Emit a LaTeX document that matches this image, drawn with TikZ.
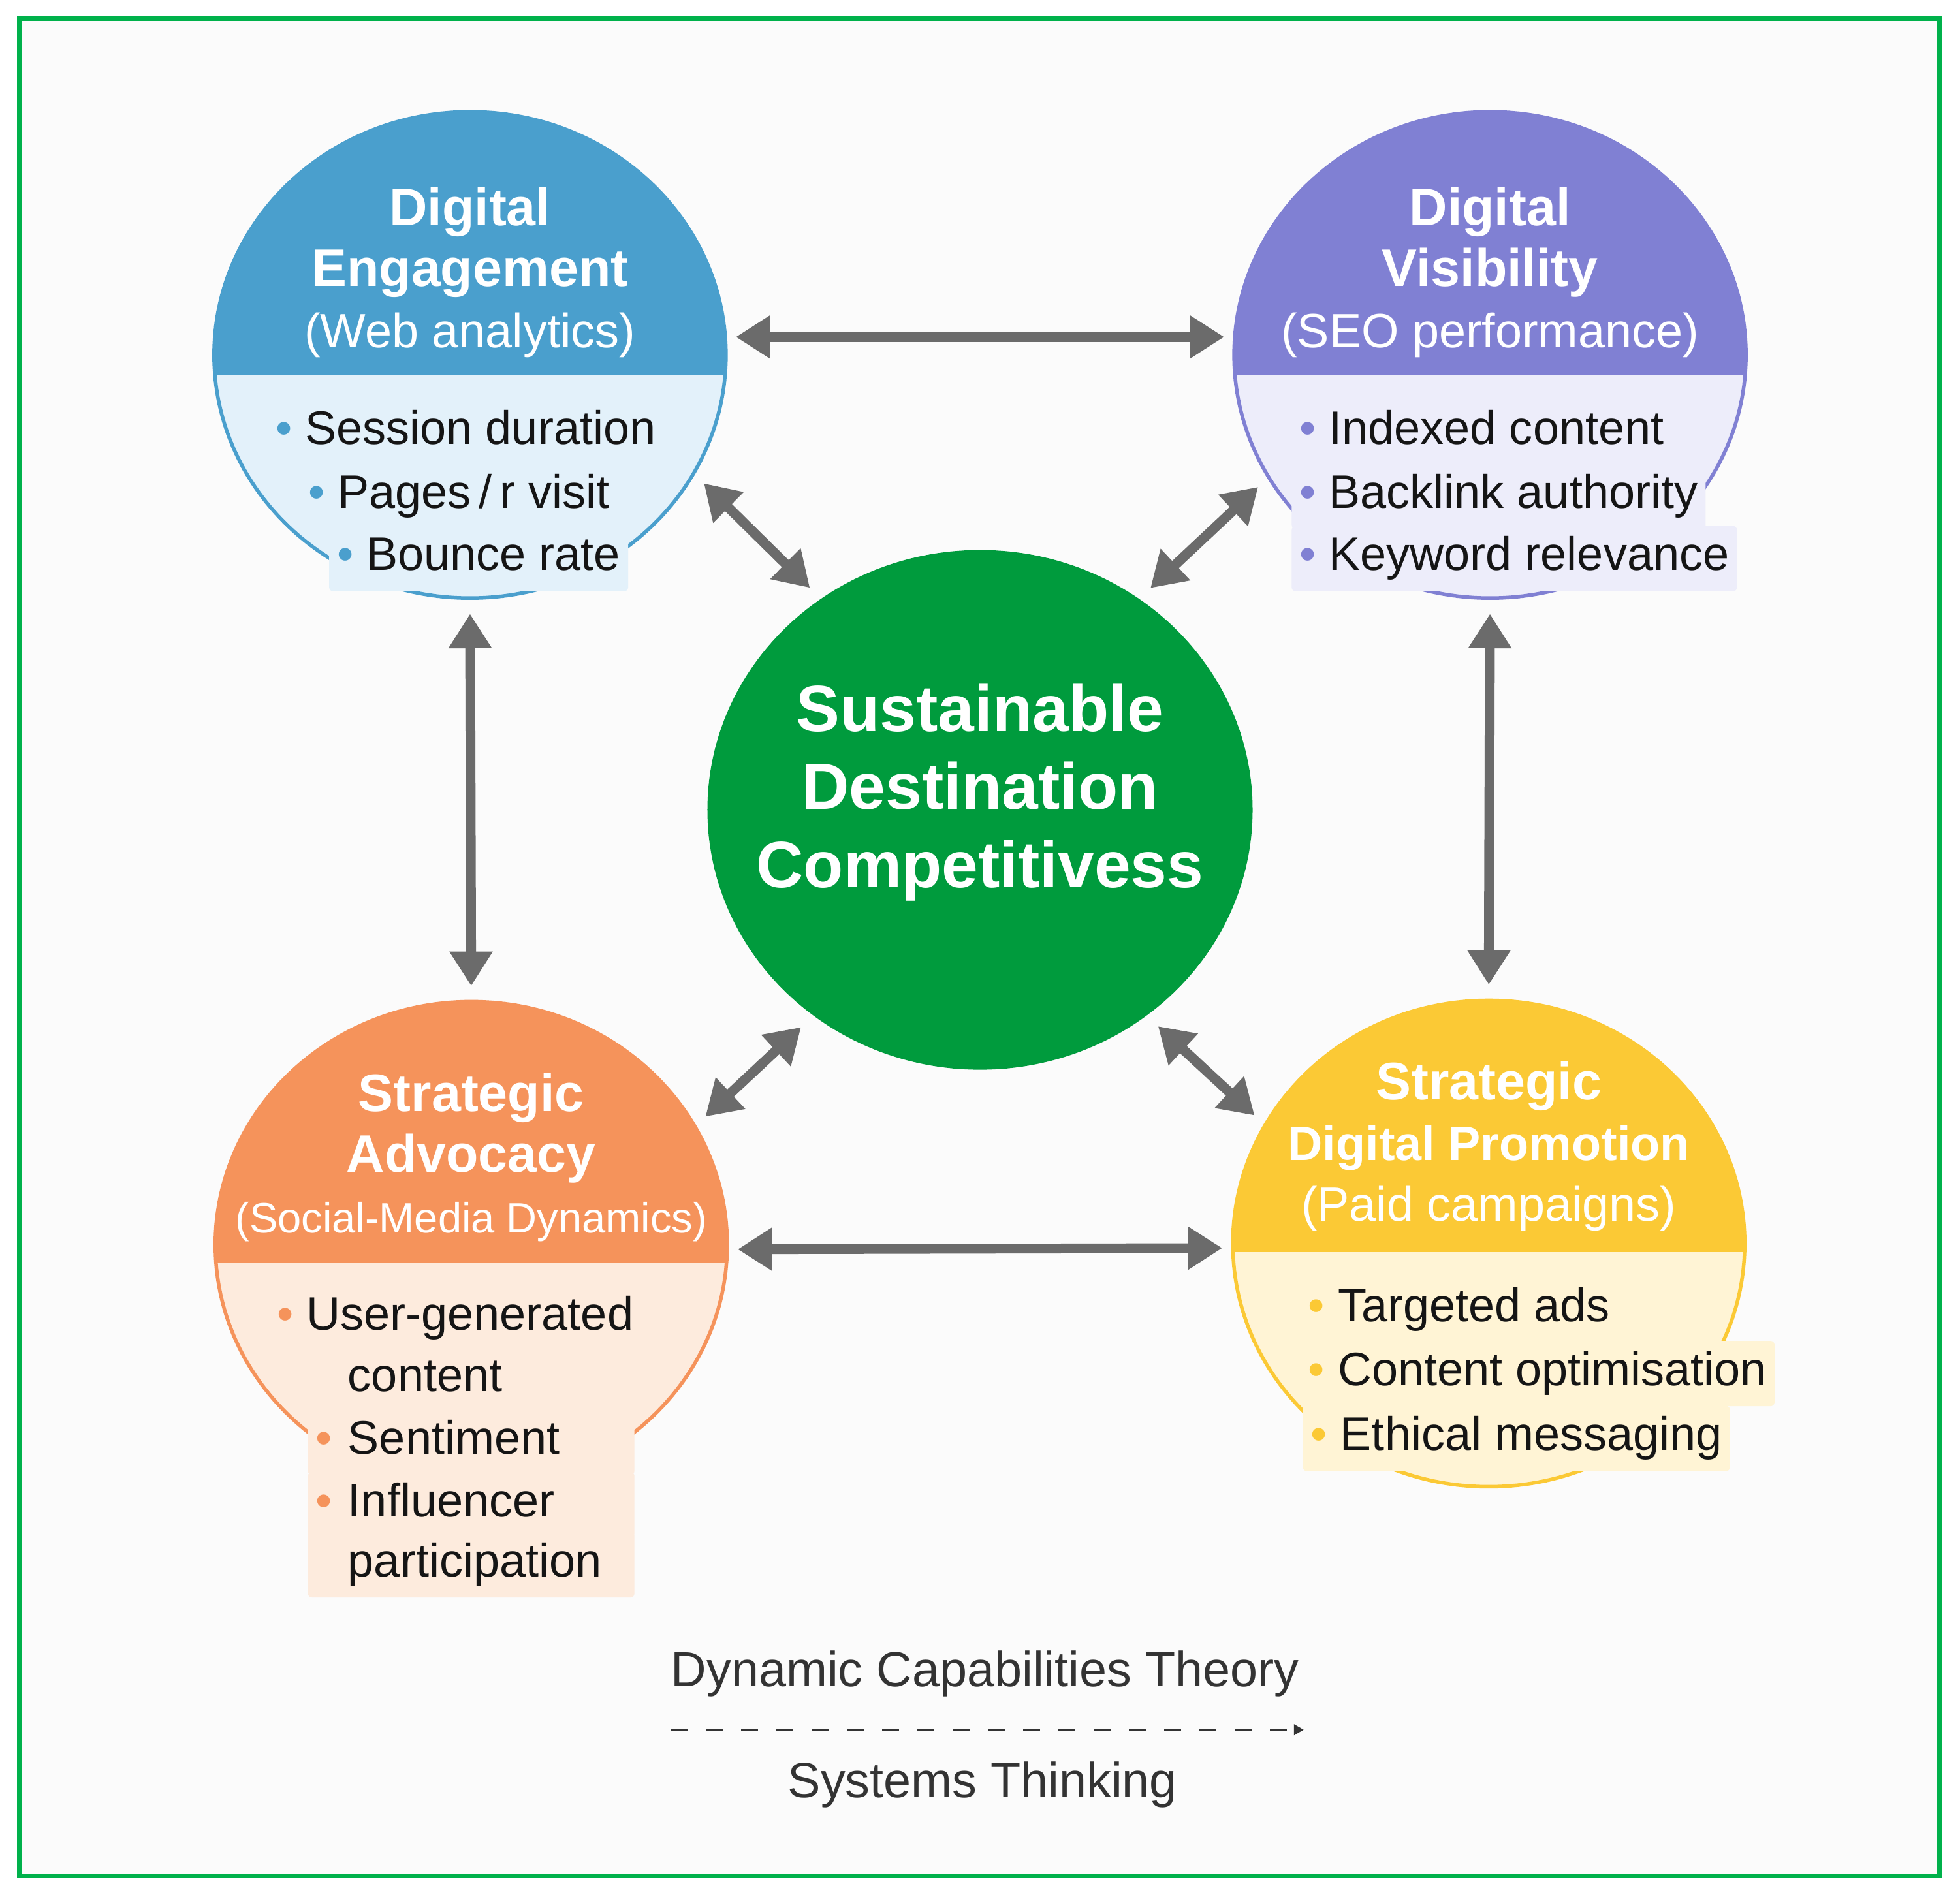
\documentclass[tikz,border=0pt]{standalone}
\usepackage{fontspec}
\setmainfont{Liberation Sans}
\usetikzlibrary{arrows.meta,shapes.geometric,positioning}
\definecolor{deblue}{HTML}{4A9FCD}
\definecolor{debg}{HTML}{E3F1FA}
\definecolor{dvpurple}{HTML}{8080D3}
\definecolor{dvbg}{HTML}{EDEDFA}
\definecolor{saorange}{HTML}{F5935B}
\definecolor{sabg}{HTML}{FDEBDD}
\definecolor{sdpyellow}{HTML}{FBC935}
\definecolor{sdpbg}{HTML}{FFF4D5}
\definecolor{sdcgreen}{HTML}{009B3D}
\definecolor{linkgrey}{HTML}{6B6B6B}
\definecolor{framegreen}{HTML}{00B14B}
\definecolor{pagebg}{HTML}{FBFBFB}
\definecolor{inktext}{HTML}{151515}
\definecolor{theorytext}{HTML}{333333}
\newcommand{\itemdot}[1]{\textcolor{#1}{•}\ }
\newcommand{\itemskip}{\phantom{•}\ }
\newcommand{\subtitlefont}{\fontsize{21}{26.5}\selectfont\mdseries}
\tikzset{
  bubble/.style n args={3}{ellipse,minimum width=78.4mm,minimum height=74.5mm,
    inner sep=0pt,line width=0.55mm,draw=#1,fill=#2,
    path picture={\fill[#1] (path picture bounding box.north west)
      rectangle ([yshift=-#3]path picture bounding box.east);}},
  core/.style={ellipse,minimum width=83.5mm,minimum height=79.6mm,inner sep=0pt,
    fill=sdcgreen},
  title/.style={text=white,align=center,inner sep=0pt,
    font=\fontsize{23}{26.5}\selectfont\bfseries},
  item/.style={fill=#1,anchor=west,inner xsep=1.2mm,inner ysep=1.6mm,
    text height=5.2mm,text depth=1.6mm,rounded corners=0.6mm,text=inktext,
    font=\fontsize{20.5}{24}\selectfont},
  link/.style={{Triangle[length=5.2mm,width=6.6mm,line width=0.3mm]}-{Triangle[length=5.2mm,width=6.6mm,line width=0.3mm]},
    line width=1.5mm,draw=linkgrey,fill=linkgrey,shorten <=1.4mm,shorten >=1.4mm},
  theory/.style={text=theorytext,font=\fontsize{21.5}{25}\selectfont,inner sep=1pt},
  dashlink/.style={-{Triangle[length=1.5mm,width=1.6mm]},draw=theorytext,
    line width=0.4mm,dash pattern=on 2.6mm off 2.8mm},
}

\begin{document}
\begin{tikzpicture}[x=0.19145mm,y=-0.19145mm]
  \useasboundingbox (0,0) rectangle (1568,1519);
  % page and green frame
  \fill[white] (0,0) rectangle (1568,1519);
  \fill[pagebg] (15.2,14.7) rectangle (1551.3,1501);
  \draw[framegreen,line width=0.7mm] (15.2,14.7) rectangle (1551.3,1501);

  % ===== the four capability bubbles and the core =====
  \node[bubble={deblue}{debg}{3.06mm}] (de) at (376,284) {};
  \node[bubble={dvpurple}{dvbg}{3.06mm}] (dv) at (1192,284) {};
  \node[bubble={saorange}{sabg}{2.7mm}] (sa) at (377,996) {};
  \node[bubble={sdpyellow}{sdpbg}{1.34mm}] (sdp) at (1191,995) {};
  \node[core] (sdc) at (784,648) {};

  % ===== indicator lists =====
  \node[item=debg] (de1) at (214,346) {\itemdot{deblue}Session duration};
  \node[item=debg] (de2) at (240,397) {\itemdot{deblue}Pages\,/\,r visit};
  \node[item=debg] (de3) at (263,447) {\itemdot{deblue}Bounce rate};

  \node[item=dvbg] (dv1) at (1033,346) {\itemdot{dvpurple}Indexed content};
  \node[item=dvbg] (dv2) at (1033,397) {\itemdot{dvpurple}Backlink authority};
  \node[item=dvbg] (dv3) at (1033,447) {\itemdot{dvpurple}Keyword relevance};

  \node[item=sabg] (sa1) at (215,1055) {\itemdot{saorange}User-generated};
  \node[item=sabg,text width=47.6mm,align=left] (sa2) at (246,1104) {\itemskip content};
  \node[item=sabg,text width=47.6mm,align=left] (sa3) at (246,1154) {\itemdot{saorange}Sentiment};
  \node[item=sabg,text width=47.6mm,align=left] (sa4) at (246,1204) {\itemdot{saorange}Influencer};
  \node[item=sabg,text width=47.6mm,align=left] (sa5) at (246,1252) {\itemskip participation};

  \node[item=sdpbg] (sdp1) at (1040,1048) {\itemdot{sdpyellow}Targeted ads};
  \node[item=sdpbg] (sdp2) at (1040,1099) {\itemdot{sdpyellow}Content optimisation};
  \node[item=sdpbg] (sdp3) at (1042,1151) {\itemdot{sdpyellow}Ethical messaging};

  % ===== titles =====
  \node[title] (detitle) at (376,218) {Digital\\Engagement\\{\subtitlefont (Web analytics)}};
  \node[title] (dvtitle) at (1192,218) {Digital\\Visibility\\{\subtitlefont (SEO performance)}};
  \node[title] (satitle) at (377,926)
    {Strategic\\Advocacy\\{\fontsize{18.5}{26.5}\selectfont\mdseries (Social-Media Dynamics)}};
  \node[title] (sdptitle) at (1191,917)
    {Strategic\\{\fontsize{21}{26.5}\selectfont Digital Promotion}\\{\subtitlefont (Paid campaigns)}};
  \node[title,font=\fontsize{28.5}{34}\selectfont\bfseries] (sdctitle) at (784,634)
    {Sustainable\\Destination\\Competitivess};

  % ===== two-way links =====
  \draw[link] (de.4) -- (dv.176);
  \draw[link] (sa.-1) -- (sdp.181);
  \draw[link,shorten <=2.2mm,shorten >=2.2mm] (de.south) -- (sa.north);
  \draw[link,shorten <=2.2mm,shorten >=2.2mm] (dv.south) -- (sdp.north);
  \draw[link,shorten <=2mm,shorten >=2.4mm] (de.-28) -- (sdc.127);
  \draw[link,shorten <=2mm,shorten >=2.4mm] (dv.209.5) -- (sdc.53);
  \draw[link,shorten <=2mm,shorten >=2.6mm] (sa.28) -- (sdc.231);
  \draw[link,shorten <=2mm,shorten >=2.4mm] (sdp.152) -- (sdc.309);

  % ===== theory footer =====
  \node[theory] (dct) at (788,1339) {Dynamic Capabilities Theory};
  \node[theory] (syst) at (786,1428) {Systems Thinking};
  \coordinate (dashstart) at (536.5,1384);
  \coordinate (dashend) at (1043,1384);
  \draw[dashlink] (dashstart) -- (dashend);
\end{tikzpicture}
\end{document}
